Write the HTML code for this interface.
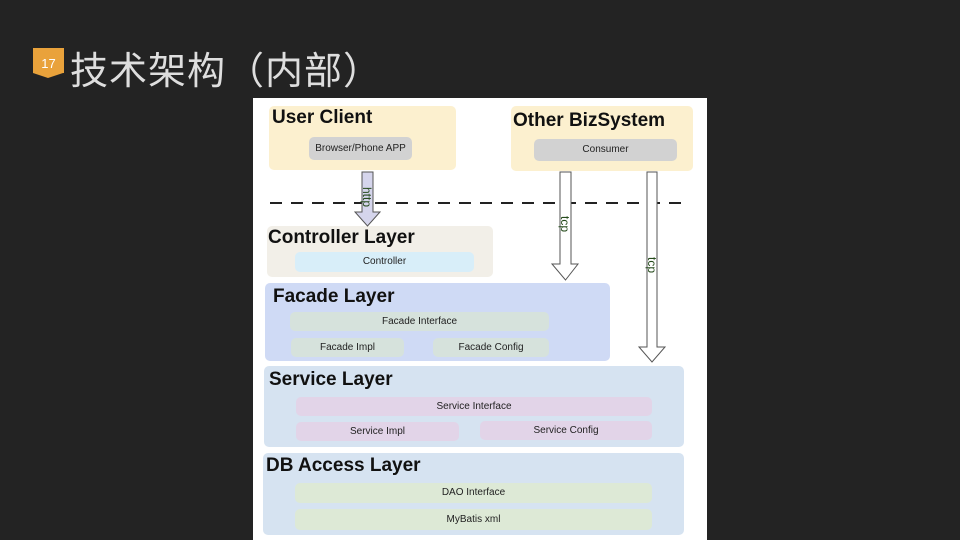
<!DOCTYPE html>
<html><head><meta charset="utf-8"><style>
body{margin:0;width:960px;height:540px;background:#232323;position:relative;overflow:hidden;font-family:"Liberation Sans","Noto Sans CJK SC",sans-serif}
.a{position:absolute}
.box{position:absolute;border-radius:5px}
.t{position:absolute;font-weight:bold;font-size:19px;color:#111;white-space:nowrap}
.p{position:absolute;border-radius:5px;font-size:10px;color:#222;text-align:center;white-space:nowrap}
</style></head><body>
<div class="a" style="left:33px;top:48px;width:31px;height:25px;background:#e9a23b"></div>
<div class="a" style="left:33px;top:73px;width:0;height:0;border-left:15.5px solid transparent;border-right:15.5px solid transparent;border-top:5px solid #e9a23b"></div>
<div class="a" style="left:33px;top:56px;width:31px;text-align:center;color:#fff;font-size:13px">17</div>
<div class="a" style="left:70px;top:40px;color:#dedede;font-size:38px;font-family:'Noto Sans CJK SC',sans-serif;letter-spacing:1px">技术架构（内部）</div>

<div class="a" style="left:253px;top:98px;width:454px;height:442px;background:#fff"></div>

<div class="box" style="left:269px;top:106px;width:187px;height:64px;background:#fcf0cf"></div>
<div class="t" style="left:272px;top:107px">User Client</div>
<div class="p" style="left:309px;top:137px;width:103px;height:23px;line-height:23px;background:#d2d2d2">Browser/Phone APP</div>

<div class="box" style="left:511px;top:106px;width:182px;height:65px;background:#fcf0cf"></div>
<div class="t" style="left:513px;top:110px">Other BizSystem</div>
<div class="p" style="left:534px;top:139px;width:143px;height:22px;line-height:22px;background:#d2d2d2">Consumer</div>

<div class="box" style="left:267px;top:226px;width:226px;height:51px;background:#f2efe8"></div>
<div class="t" style="left:268px;top:227px">Controller Layer</div>
<div class="p" style="left:295px;top:252px;width:179px;height:20px;line-height:20px;background:#d8eef9">Controller</div>

<div class="box" style="left:265px;top:283px;width:345px;height:78px;background:#cfdaf5"></div>
<div class="t" style="left:273px;top:286px">Facade Layer</div>
<div class="p" style="left:290px;top:312px;width:259px;height:19px;line-height:19px;background:#d6e2dc">Facade Interface</div>
<div class="p" style="left:291px;top:338px;width:113px;height:19px;line-height:19px;background:#d6e2dc">Facade Impl</div>
<div class="p" style="left:433px;top:338px;width:116px;height:19px;line-height:19px;background:#d6e2dc">Facade Config</div>

<div class="box" style="left:264px;top:366px;width:420px;height:81px;background:#d6e3f1"></div>
<div class="t" style="left:269px;top:369px">Service Layer</div>
<div class="p" style="left:296px;top:397px;width:356px;height:19px;line-height:19px;background:#e2d4e8">Service Interface</div>
<div class="p" style="left:296px;top:422px;width:163px;height:19px;line-height:19px;background:#e2d4e8">Service Impl</div>
<div class="p" style="left:480px;top:421px;width:172px;height:19px;line-height:19px;background:#e2d4e8">Service Config</div>

<div class="box" style="left:263px;top:453px;width:421px;height:82px;background:#d6e3f1"></div>
<div class="t" style="left:266px;top:455px">DB Access Layer</div>
<div class="p" style="left:295px;top:483px;width:357px;height:20px;line-height:20px;background:#dde9d6">DAO Interface</div>
<div class="p" style="left:295px;top:509px;width:357px;height:21px;line-height:21px;background:#dde9d6">MyBatis xml</div>

<svg class="a" style="left:0;top:0" width="960" height="540">
<line x1="270" y1="203" x2="686" y2="203" stroke="#222" stroke-width="2" stroke-dasharray="12,9"/>
<polygon points="362,172 373,172 373,212 380,212 367.5,226 355,212 362,212" fill="#d5d5ec" stroke="#555" stroke-width="1"/>
<polygon points="560,172 571,172 571,264 578,264 565.5,280 552,264 560,264" fill="#fff" stroke="#555" stroke-width="1"/>
<polygon points="647,172 657,172 657,347 665,347 652,362 639,347 647,347" fill="#fff" stroke="#555" stroke-width="1"/>
<text transform="translate(363,187) rotate(90)" font-family="Liberation Sans" font-size="12" fill="#244a1a">http</text>
<text transform="translate(561,216) rotate(90)" font-family="Liberation Sans" font-size="12" fill="#244a1a">tcp</text>
<text transform="translate(648,257) rotate(90)" font-family="Liberation Sans" font-size="12" fill="#244a1a">tcp</text>
</svg>
</body></html>
